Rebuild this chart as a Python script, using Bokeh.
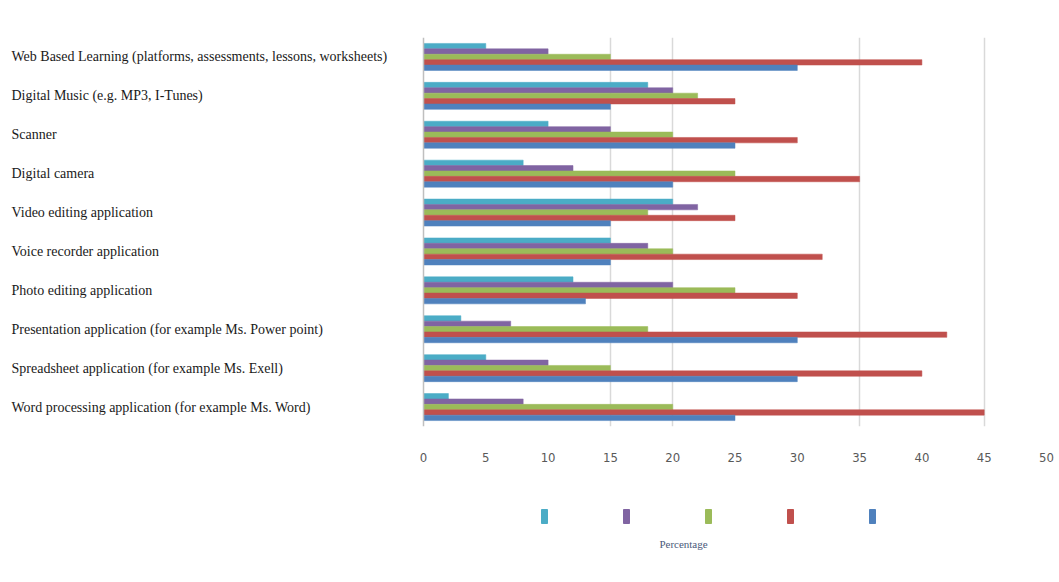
from bokeh.plotting import figure
from bokeh.models import Range1d, FixedTicker, Span, ColumnDataSource
from bokeh.core.properties import value
from bokeh.layouts import column
from bokeh.transform import dodge
from bokeh.embed import file_html
from bokeh.resources import INLINE

categories = [
    "Web Based Learning (platforms, assessments, lessons, worksheets)",
    "Digital Music (e.g. MP3, I-Tunes)",
    "Scanner",
    "Digital camera",
    "Video editing application",
    "Voice recorder application",
    "Photo editing application",
    "Presentation application (for example Ms. Power point)",
    "Spreadsheet application (for example Ms. Exell)",
    "Word processing application (for example Ms. Word)",
]
cyan_vals = [5, 18, 10, 8, 20, 15, 12, 3, 5, 2]
purple_vals = [10, 20, 15, 12, 22, 18, 20, 7, 10, 8]
green_vals = [15, 22, 20, 25, 18, 20, 25, 18, 15, 20]
red_vals = [40, 25, 30, 35, 25, 32, 30, 42, 40, 45]
blue_vals = [30, 15, 25, 20, 15, 15, 13, 30, 30, 25]
series = [cyan_vals, purple_vals, green_vals, red_vals, blue_vals]
series_colors = ["#4BACC6", "#8064A2", "#9BBB59", "#C0504D", "#4F81BD"]
x_ticks = [0, 5, 10, 15, 20, 25, 30, 35, 40, 45, 50]
grid_ticks = [15, 20, 35, 45, 50]
x_label = "Percentage"

W = 1059
PLOT_LEFT = 423          # pixel where value 0 sits
PLOT_RIGHT = 1046        # pixel where value 50 sits
XMAX = 50
px_per_unit = (PLOT_RIGHT - PLOT_LEFT) / XMAX
x_start = -PLOT_LEFT / px_per_unit
label_x = x_start + 11 / px_per_unit

idx = list(range(len(categories)))
data = {"idx": idx, "name": categories, "lx": [label_x] * len(categories)}
for k, s in enumerate(series):
    data[f"s{k}"] = s
src = ColumnDataSource(data)

p = figure(width=W, height=470, output_backend="svg", toolbar_location=None,
           x_range=Range1d(x_start, XMAX), y_range=Range1d(len(categories) - 0.5, -0.5),
           min_border_left=0, min_border_right=W - PLOT_RIGHT, min_border_top=37,
           min_border_bottom=44)
p.outline_line_color = None

bar_h = 0.139
for k in range(len(series)):
    p.hbar(y=dodge("idx", (k - 2) * bar_h, range=p.y_range), right=f"s{k}", left=0,
           height=bar_h, source=src, fill_color=series_colors[k], line_color=series_colors[k],
           line_width=0.5)

p.text(x="lx", y="idx", text="name", source=src, text_align="left", text_baseline="middle",
       text_font=value("Liberation Serif"), text_font_size="14px", text_color="#1a1a1a")

p.xaxis.ticker = FixedTicker(ticks=x_ticks)
p.xaxis.axis_line_color = None
p.xaxis.major_tick_line_color = None
p.xaxis.minor_tick_line_color = None
p.xaxis.major_label_standoff = 20
p.xaxis.major_label_text_font = "Liberation Sans Narrow, DejaVu Sans Condensed, sans-serif"
p.xaxis.major_label_text_font_size = "13px"
p.xaxis.major_label_text_color = "#595959"
p.yaxis.visible = False
p.ygrid.visible = False
p.xgrid.ticker = FixedTicker(ticks=grid_ticks)
p.xgrid.grid_line_color = "#d9d9d9"
p.xgrid.grid_line_width = 1.5

p.add_layout(Span(location=0, dimension="height", line_color="#bfbfbf", line_width=1.5))

# bottom area: legend swatches and axis title (pixel-mapped ranges, frame aligned with p)
H2 = 112
p2 = figure(width=W, height=H2, output_backend="svg", toolbar_location=None,
            x_range=Range1d(0, PLOT_RIGHT), y_range=Range1d(H2, 0), min_border=0,
            min_border_right=W - PLOT_RIGHT)
p2.axis.visible = False
p2.grid.visible = False
p2.outline_line_color = None

LEG_X0, LEG_STEP, LEG_Y = 544, 82, 46
leg_src = ColumnDataSource({"x": [LEG_X0 + k * LEG_STEP for k in range(len(series))],
                            "y": [LEG_Y] * len(series), "color": series_colors})
p2.rect(x="x", y="y", width=6, height=14, source=leg_src, fill_color="color",
        line_color="color")
p2.text(x=[683], y=[73], text=[x_label], text_align="center", text_baseline="middle",
        text_font=value("Liberation Serif"), text_font_size="11px", text_color="#4a5a7a")

layout = column(p, p2, spacing=0)
open("out.html", "w").write(file_html(layout, INLINE))
